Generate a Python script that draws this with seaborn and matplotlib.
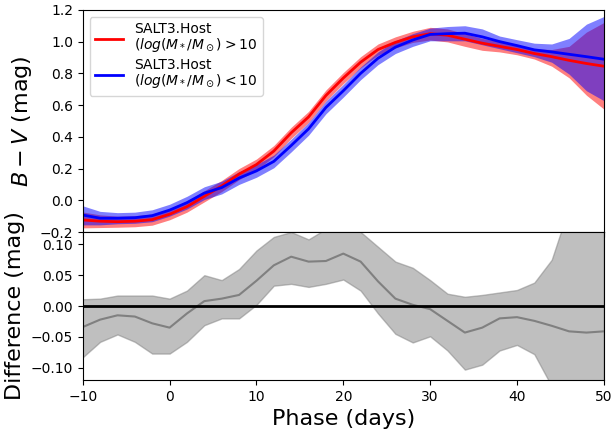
import numpy as np
import pandas as pd
import matplotlib
matplotlib.use("Agg")
import matplotlib.pyplot as plt
import seaborn as sns

phase = [-10, -8, -6, -4, -2, 0, 2, 4, 6, 8, 10, 12, 14, 16, 18, 20, 22, 24, 26, 28,
         30, 32, 34, 36, 38, 40, 42, 44, 46, 48, 50]

red_mean = [-0.124, -0.132, -0.135, -0.132, -0.122, -0.088, -0.040, 0.025, 0.090, 0.165,
            0.225, 0.310, 0.425, 0.525, 0.660, 0.770, 0.870, 0.950, 0.995, 1.030,
            1.050, 1.040, 1.015, 0.990, 0.970, 0.950, 0.925, 0.905, 0.882, 0.862, 0.845]
red_lo = [-0.174, -0.172, -0.170, -0.167, -0.157, -0.123, -0.075, -0.010, 0.055, 0.130,
          0.190, 0.275, 0.390, 0.490, 0.625, 0.735, 0.835, 0.915, 0.960, 0.995,
          1.010, 0.998, 0.970, 0.945, 0.935, 0.917, 0.890, 0.845, 0.772, 0.662, 0.575]
red_hi = [-0.074, -0.092, -0.100, -0.097, -0.087, -0.053, -0.005, 0.060, 0.125, 0.200,
          0.260, 0.345, 0.460, 0.560, 0.695, 0.805, 0.905, 0.985, 1.030, 1.065,
          1.090, 1.080, 1.050, 1.020, 1.000, 0.980, 0.955, 0.950, 0.970, 1.060, 1.120]

blue_mean = [-0.093, -0.113, -0.113, -0.110, -0.097, -0.062, -0.015, 0.045, 0.080, 0.140,
             0.185, 0.245, 0.345, 0.450, 0.585, 0.690, 0.800, 0.895, 0.965, 1.010,
             1.045, 1.050, 1.053, 1.030, 1.000, 0.975, 0.948, 0.935, 0.920, 0.905, 0.889]
blue_lo = [-0.155, -0.155, -0.148, -0.145, -0.135, -0.100, -0.055, 0.005, 0.040, 0.100,
           0.145, 0.205, 0.305, 0.410, 0.545, 0.650, 0.760, 0.855, 0.925, 0.970,
           1.005, 1.005, 1.005, 0.980, 0.955, 0.930, 0.905, 0.870, 0.795, 0.690, 0.628]
blue_hi = [-0.035, -0.070, -0.078, -0.075, -0.060, -0.025, 0.025, 0.085, 0.120, 0.180,
           0.225, 0.285, 0.385, 0.490, 0.625, 0.730, 0.840, 0.935, 1.005, 1.050,
           1.085, 1.095, 1.100, 1.080, 1.035, 1.012, 0.990, 0.985, 1.020, 1.110, 1.158]

diff_mean = [-0.034, -0.022, -0.015, -0.017, -0.028, -0.035, -0.012, 0.008, 0.012, 0.018,
             0.041, 0.066, 0.080, 0.072, 0.073, 0.085, 0.072, 0.040, 0.012, 0.002,
             -0.005, -0.024, -0.043, -0.035, -0.020, -0.018, -0.024, -0.032, -0.041, -0.043, -0.041]
diff_lo = [-0.083, -0.058, -0.046, -0.058, -0.077, -0.077, -0.058, -0.031, -0.020, -0.020,
           0.002, 0.033, 0.036, 0.031, 0.036, 0.043, 0.025, -0.012, -0.045, -0.059,
           -0.049, -0.072, -0.103, -0.095, -0.072, -0.063, -0.078, -0.130, -0.190, -0.250, -0.310]
diff_hi = [0.011, 0.012, 0.017, 0.017, 0.017, 0.012, 0.025, 0.050, 0.042, 0.060,
           0.090, 0.112, 0.120, 0.108, 0.125, 0.130, 0.120, 0.096, 0.072, 0.062,
           0.042, 0.020, 0.015, 0.018, 0.022, 0.026, 0.038, 0.075, 0.160, 0.250, 0.330]

labels = ["SALT3.Host\n($log(M_*/M_\\odot)>10$", "SALT3.Host\n($log(M_*/M_\\odot)<10$"]

fig = plt.figure(figsize=(6.13, 4.29), dpi=100)
gs = fig.add_gridspec(2, 1, height_ratios=[3, 2], hspace=0)
ax1 = fig.add_subplot(gs[0])
ax2 = fig.add_subplot(gs[1], sharex=ax1)
fig.subplots_adjust(left=0.135, right=0.985, top=0.977, bottom=0.114)

ax1.fill_between(phase, red_lo, red_hi, color="red", alpha=0.5, lw=0)
ax1.fill_between(phase, blue_lo, blue_hi, color="blue", alpha=0.5, lw=0)
sns.lineplot(x=phase, y=red_mean, color="red", lw=2, label=labels[0], ax=ax1)
sns.lineplot(x=phase, y=blue_mean, color="blue", lw=2, label=labels[1], ax=ax1)
ax1.set_ylim(-0.2, 1.2)
ax1.set_xlim(-10, 50)
ax1.set_ylabel("$B-V$ (mag)", fontsize=16)
leg = ax1.legend(loc="upper left", fontsize=10, labelspacing=0.3)
for t in leg.get_texts():
    t.set_linespacing(1.0)
plt.setp(ax1.get_xticklabels(), visible=False)

ax2.fill_between(phase, diff_lo, diff_hi, color="gray", alpha=0.5)
sns.lineplot(x=phase, y=diff_mean, color="gray", lw=1.5, ax=ax2)
ax2.axhline(0, color="black", lw=2)
ax2.set_ylim(-0.12, 0.12)
ax2.set_yticks([-0.10, -0.05, 0.00, 0.05, 0.10])
ax2.set_xlim(-10, 50)
ax2.set_xlabel("Phase (days)", fontsize=16)
ax2.set_ylabel("Difference (mag)", fontsize=16)

for ax in (ax1, ax2):
    ax.tick_params(labelsize=10)

fig.savefig("out.png", dpi=100)
